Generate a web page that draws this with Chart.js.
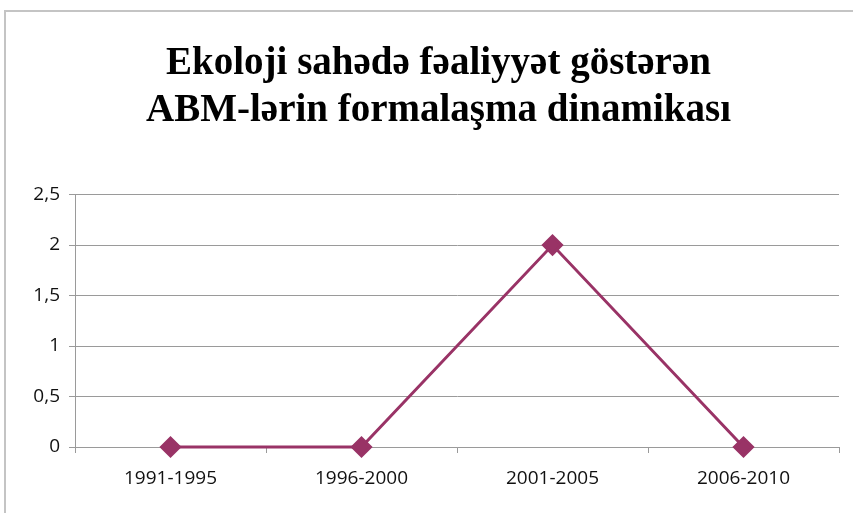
<!DOCTYPE html>
<html>
<head>
<meta charset="utf-8">
<script src="https://cdn.jsdelivr.net/npm/chart.js@4"></script>
<style>
  html, body { margin: 0; padding: 0; background: #fff; overflow: hidden; }
  #frame { position: absolute; left: 4px; top: 10px; width: 900px; height: 600px; border: 2px solid #c4c4c4; }
  #wrap { position: absolute; left: 0; top: 0; width: 853px; height: 513px; }
</style>
</head>
<body>
<div id="frame"></div>
<div id="wrap"><canvas id="chart"></canvas></div>
<script>
// Kateqoriyalar və qiymətlər
const periods = ['1991-1995', '1996-2000', '2001-2005', '2006-2010'];
const abmCount = [0, 0, 2, 0];
const titleLines = ['Ekoloji sahədə fəaliyyət göstərən', 'ABM-lərin formalaşma dinamikası'];

const ctx = document.getElementById('chart').getContext('2d');
const tickFont = { family: '"Open Sans", sans-serif', size: 19 };

// başlığı bir az sağa sürüşdürmək üçün
const shiftTitle = {
    id: 'shiftTitle',
    afterLayout(chart) {
        const t = chart.titleBlock;
        if (t) { t.left += 19; t.right += 19; }
    }
};

new Chart(ctx, {
    type: 'line',
    data: {
        labels: periods,
        datasets: [{
            data: abmCount,
            borderColor: '#993366',
            backgroundColor: '#993366',
            borderWidth: 3,
            pointStyle: 'rectRot',
            pointRadius: 9,
            pointHoverRadius: 9,
            tension: 0,
            fill: false,
            clip: false
        }]
    },
    options: {
        responsive: true,
        maintainAspectRatio: false,
        animation: false,
        layout: { padding: { top: 0, right: 14, bottom: 0, left: 0 } },
        plugins: {
            legend: { display: false },
            tooltip: { enabled: false },
            title: {
                display: true,
                text: titleLines,
                color: '#000',
                font: { family: '"Liberation Serif", serif', size: 39, weight: 'bold', lineHeight: 1.2 },
                padding: { top: 41, bottom: 60 }
            }
        },
        scales: {
            x: {
                offset: true,
                afterFit: scale => { scale.height = 66; },
                grid: { display: true, drawOnChartArea: false, offset: true, color: '#9a9a9a', tickLength: 6 },
                border: { color: '#9a9a9a' },
                ticks: { color: '#111', padding: 14, font: tickFont }
            },
            y: {
                min: 0,
                max: 2.5,
                afterFit: scale => { scale.width = 75; },
                grid: { color: '#9a9a9a', tickLength: 6 },
                border: { color: '#9a9a9a' },
                ticks: {
                    stepSize: 0.5,
                    color: '#111',
                    padding: 9,
                    font: tickFont,
                    callback: v => String(v).replace('.', ',')
                }
            }
        }
    },
    plugins: [shiftTitle]
});
</script>
</body>
</html>
